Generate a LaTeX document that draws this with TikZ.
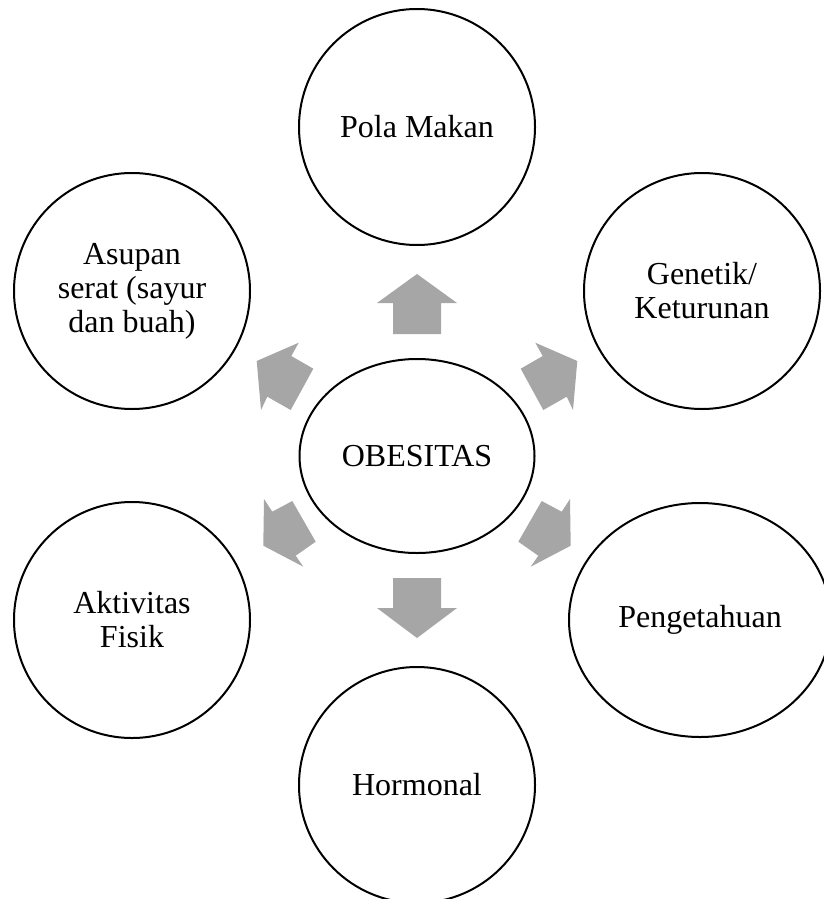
\documentclass[tikz,border=0pt]{standalone}
\usepackage{fontspec}
\setmainfont{Liberation Serif}
\usetikzlibrary{shapes.geometric}
\definecolor{arrowgray}{RGB}{166,166,166}
\tikzset{
  labelfont/.style={font=\fontsize{32}{34}\selectfont},
  bubble/.style={circle, draw=black, line width=2pt, fill=white, minimum size=236pt, inner sep=0pt, align=center, labelfont},
  hub/.style={ellipse, draw=black, line width=2pt, fill=white, minimum width=235pt, minimum height=194pt, inner sep=0pt, align=center, labelfont},
  blockarrow/.style={fill=arrowgray, draw=none}
}
\begin{document}
\begin{tikzpicture}[x=1pt,y=-1pt]
\useasboundingbox (0,0) rectangle (824,899);
\clip (0,0) rectangle (824,899);
% outer circles
\node[bubble] (pola) at (417,127) {Pola Makan};
\node[bubble] (gen) at (702,291) {Genetik/\\Keturunan};
\node[hub, minimum width=262pt, minimum height=234pt] (peng) at (700,620) {Pengetahuan};
\node[bubble] (horm) at (417,785) {Hormonal};
\node[bubble] (akt) at (132,620) {Aktivitas\\Fisik};
\node[bubble] (asup) at (132,291) {Asupan\\serat (sayur\\dan buah)};
% centre
\node[hub] (obes) at (417,456) {OBESITAS};
% block arrows
\fill[blockarrow] (417,274) -- (457,303) -- (441,303) -- (441,334) -- (393,334) -- (393,303) -- (377,303) -- cycle;
\fill[blockarrow] (393,578) -- (441,578) -- (441,608) -- (457,608) -- (417,638) -- (377,608) -- (393,608) -- cycle;
\fill[blockarrow] (535.3,342.7) -- (577.3,361) -- (573,410) -- (566.7,396.7) -- (543.3,410) -- (520.7,368.7) -- (542.7,356) -- cycle;
\fill[blockarrow] (298.7,342.7) -- (256.7,361) -- (261,410) -- (267.3,396.7) -- (290.7,410) -- (313.3,368.7) -- (291.3,356) -- cycle;
\fill[blockarrow] (570,499) -- (570.7,545.7) -- (530.7,566.7) -- (538.3,555.7) -- (518.3,541.7) -- (541.7,501) -- (561.7,511.7) -- cycle;
\fill[blockarrow] (264,499) -- (263.3,545.7) -- (303.3,566.7) -- (295.7,555.7) -- (315.7,541.7) -- (292.3,501) -- (272.3,511.7) -- cycle;
\end{tikzpicture}
\end{document}
